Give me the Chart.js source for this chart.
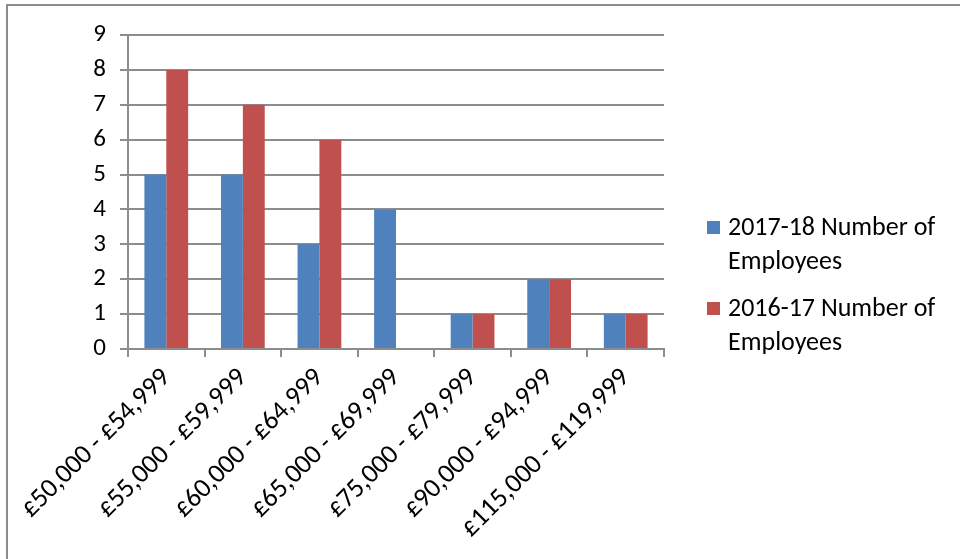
<!DOCTYPE html>
<html>
<head>
<meta charset="utf-8">
<script src="https://cdn.jsdelivr.net/npm/chart.js@4"></script>
<style>
    html, body { margin: 0; padding: 0; background: #fff; overflow: hidden; }
    #wrap { position: relative; width: 960px; height: 559px; }
    #frame {
        position: absolute; left: 6px; top: 4px; width: 1000px; height: 600px;
        border: 2px solid #8c8c8c; pointer-events: none;
    }
</style>
</head>
<body>
<div id="wrap">
    <canvas id="salaryChart"></canvas>
    <div id="frame"></div>
</div>
<script>
const categories = [
    "£50,000 - £54,999",
    "£55,000 - £59,999",
    "£60,000 - £64,999",
    "£65,000 - £69,999",
    "£75,000 - £79,999",
    "£90,000 - £94,999",
    "£115,000 - £119,999"
];
const employees2017 = [5, 5, 3, 4, 1, 2, 1];
const employees2016 = [8, 7, 6, 0, 1, 2, 1];
const legendLines = [
    ["2017-18 Number of", "Employees"],
    ["2016-17 Number of", "Employees"]
];

const FONT = "Carlito, 'Liberation Sans', Arial, sans-serif";
const GRID = "#8c8c8c";

// legend drawn by hand so the labels can wrap onto two lines
const sideLegend = {
    id: "sideLegend",
    afterDraw(chart) {
        const ctx = chart.ctx;
        const area = chart.chartArea;
        const boxX = area.right + 43;
        const textX = boxX + 21;
        ctx.save();
        ctx.font = "26px " + FONT;
        ctx.textBaseline = "middle";
        chart.data.datasets.forEach((ds, i) => {
            const y = 228 + i * 81;
            ctx.fillStyle = ds.backgroundColor;
            ctx.fillRect(boxX, y - 7, 13, 13);
            ctx.fillStyle = "#000";
            legendLines[i].forEach((line, j) => {
                ctx.fillText(line, textX, y + j * 34);
            });
        });
        ctx.restore();
    }
};

new Chart(document.getElementById("salaryChart"), {
    type: "bar",
    data: {
        labels: categories,
        datasets: [
            {
                label: legendLines[0].join(" "),
                data: employees2017,
                backgroundColor: "#4f81bd",
                barPercentage: 1,
                categoryPercentage: 2 / 3.5
            },
            {
                label: legendLines[1].join(" "),
                data: employees2016,
                backgroundColor: "#c0504d",
                barPercentage: 1,
                categoryPercentage: 2 / 3.5
            }
        ]
    },
    options: {
        responsive: true,
        maintainAspectRatio: false,
        animation: false,
        layout: {
            padding: { left: 0, top: 35, right: 296, bottom: 0 }
        },
        plugins: {
            legend: { display: false },
            tooltip: { enabled: false }
        },
        scales: {
            x: {
                grid: {
                    drawOnChartArea: false,
                    drawTicks: true,
                    tickLength: 8,
                    color: GRID,
                    lineWidth: 2,
                    offset: true
                },
                border: { color: GRID, width: 2 },
                ticks: {
                    color: "#000",
                    font: { family: FONT, size: 27 },
                    minRotation: 45,
                    maxRotation: 45,
                    padding: 5,
                    autoSkip: false
                },
                afterFit(scale) { scale.height = 210; }
            },
            y: {
                min: 0,
                max: 9,
                ticks: {
                    stepSize: 1,
                    color: "#000",
                    font: { family: FONT, size: 25 },
                    padding: 14
                },
                grid: {
                    color: GRID,
                    lineWidth: 2,
                    tickLength: 8
                },
                border: { color: GRID, width: 2 },
                afterFit(scale) { scale.width = 128; }
            }
        }
    },
    plugins: [sideLegend]
});
</script>
</body>
</html>
